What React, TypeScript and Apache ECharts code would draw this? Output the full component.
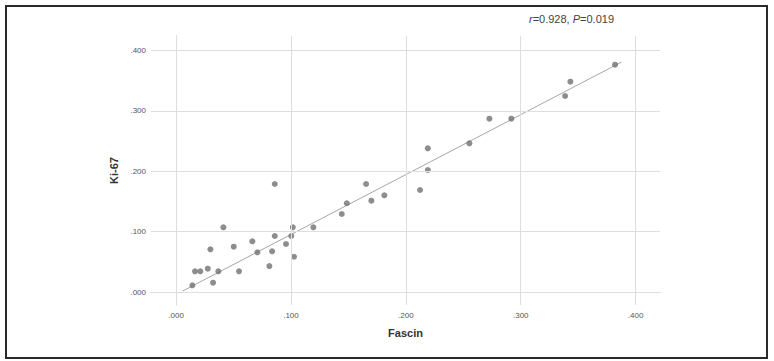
import React, { useEffect, useRef } from "react";
import * as echarts from "echarts";

const fascin: number[] = [
  0.0142, 0.0165, 0.0211, 0.0276, 0.0322, 0.0368, 0.0299, 0.0412, 0.0502, 0.0548,
  0.0664, 0.0708, 0.0812, 0.0836, 0.0859, 0.0859, 0.0957, 0.1003, 0.1016, 0.1027,
  0.1195, 0.1442, 0.1486, 0.1654, 0.17, 0.1813, 0.2124, 0.2191, 0.2191, 0.2553,
  0.2727, 0.2918, 0.3386, 0.3432, 0.3821,
];
const ki67: number[] = [
  0.0111, 0.0343, 0.0343, 0.0386, 0.0154, 0.0343, 0.0707, 0.1071, 0.075, 0.0343,
  0.0839, 0.0657, 0.043, 0.0674, 0.0927, 0.1788, 0.0795, 0.0927, 0.1071, 0.0584,
  0.1071, 0.1291, 0.1469, 0.1788, 0.1512, 0.1601, 0.1689, 0.2379, 0.202, 0.2462,
  0.2869, 0.2869, 0.3245, 0.3482, 0.3763,
];
const fitLine: number[][] = [
  [0.0058, 0.0017],
  [0.3879, 0.3808],
];
const xTicks: number[] = [0, 0.1, 0.2, 0.3, 0.4];
const yTicks: number[] = [0, 0.1, 0.2, 0.3, 0.4];
const xName = "Fascin";
const yName = "Ki-67";

const fmt = (v: number) => v.toFixed(3).replace(/^0/, "");

export default function App() {
  const ref = useRef<HTMLDivElement>(null);
  useEffect(() => {
    if (!ref.current) return;
    const chart = echarts.init(ref.current, null, { renderer: "svg" });
    const points = fascin.map((x, i) => [x, ki67[i]]);
    const font = "Arial, 'Liberation Sans', sans-serif";
    chart.setOption({
      animation: false,
      backgroundColor: "#ffffff",
      textStyle: { fontFamily: font },
      grid: { left: 151, top: 36, right: 114, bottom: 56, containLabel: false },
      xAxis: {
        type: "value",
        min: -0.0218,
        max: 0.4212,
        name: xName,
        nameLocation: "middle",
        nameGap: 22,
        nameTextStyle: { fontSize: 11, fontWeight: "bold", color: "#333", fontFamily: font },
        axisLine: { show: true, lineStyle: { color: "#b8b8b8", width: 1 } },
        axisTick: { show: false },
        splitLine: { show: false },
        axisLabel: {
          customValues: xTicks,
          formatter: (v: number) => fmt(v),
          fontSize: 8,
          color: "#555",
          margin: 6,
          fontFamily: font,
        },
      },
      yAxis: {
        type: "value",
        min: -0.0215,
        max: 0.4238,
        name: yName,
        nameLocation: "middle",
        nameGap: 20,
        nameTextStyle: { fontSize: 11, fontWeight: "bold", color: "#333", fontFamily: font },
        axisLine: { show: true, lineStyle: { color: "#b8b8b8", width: 1 } },
        axisTick: { show: false },
        splitLine: { show: false },
        axisLabel: {
          customValues: yTicks,
          formatter: (v: number) => fmt(v),
          fontSize: 8,
          color: "#555",
          margin: 5,
          fontFamily: font,
        },
      },
      series: [
        {
          type: "scatter",
          data: [],
          silent: true,
          z: 1,
          markLine: {
            silent: true,
            symbol: "none",
            label: { show: false },
            lineStyle: { color: "#dedede", width: 1, type: "solid" },
            data: [
              ...xTicks.map((v) => ({ xAxis: v })),
              ...yTicks.map((v) => ({ yAxis: v })),
            ],
          },
        },
        {
          type: "line",
          data: fitLine,
          showSymbol: false,
          symbol: "none",
          silent: true,
          z: 2,
          lineStyle: { color: "#a6a6a6", width: 1 },
        },
        {
          type: "scatter",
          data: points,
          symbolSize: 6,
          z: 3,
          itemStyle: { color: "#707070" },
        },
      ],
      graphic: [
        {
          type: "rect",
          shape: { x: 6, y: 6, width: 761, height: 352 },
          style: { fill: "none", stroke: "#2a2a2a", lineWidth: 2 },
          silent: true,
        },
        {
          type: "text",
          x: 529,
          y: 19,
          style: {
            text: "{i|r}=0.928, {i|P}=0.019",
            font: `11px ${font}`,
            fill: "#444",
            verticalAlign: "middle",
            rich: {
              i: { fontStyle: "italic", fontSize: 11, fill: "#444", fontFamily: font },
            },
          },
        },
      ],
    });
    return () => chart.dispose();
  }, []);
  return (
    <div
      ref={ref}
      style={{ position: "fixed", left: 0, top: 0, width: 774, height: 361 }}
    />
  );
}
